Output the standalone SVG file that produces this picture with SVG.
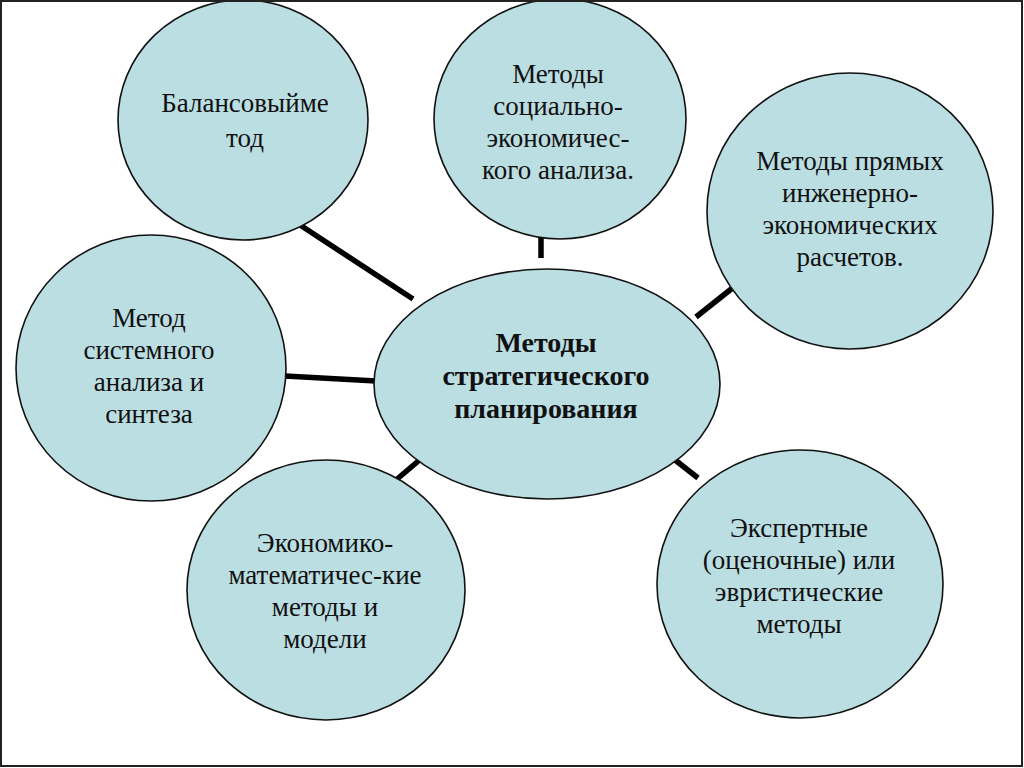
<svg xmlns="http://www.w3.org/2000/svg" width="1024" height="768" viewBox="0 0 1024 768">
<style>
.node{fill:#BBDEE2;stroke:#111;stroke-width:1.6}
.t{font-family:"Liberation Serif","Times New Roman",serif;font-size:27px;fill:#111;text-anchor:middle}
.b{font-family:"Liberation Serif","Times New Roman",serif;font-size:28px;font-weight:bold;fill:#111;text-anchor:middle}
.c{stroke:#000;stroke-width:5.5;stroke-linecap:butt}
</style>
<rect x="0" y="0" width="1024" height="768" fill="#fff"/>
<g id="connectors">
<line class="c" x1="300" y1="225" x2="413" y2="299"/>
<line class="c" x1="541" y1="236" x2="541" y2="258"/>
<line class="c" x1="735" y1="286" x2="696" y2="317"/>
<line class="c" x1="285" y1="376" x2="376" y2="381"/>
<line class="c" x1="396" y1="480" x2="423" y2="457"/>
<line class="c" x1="670" y1="456" x2="698" y2="478"/>
</g>
<g id="n-balance">
<ellipse class="node" cx="243" cy="120" rx="125" ry="120"/>
<text class="t" x="245" y="112">Балансовыйме</text>
<text class="t" x="245" y="147">тод</text>
</g>
<g id="n-social">
<ellipse class="node" cx="560" cy="119" rx="126" ry="120"/>
<text class="t" x="558" y="83">Методы</text>
<text class="t" x="558" y="115">социально-</text>
<text class="t" x="558" y="147">экономичес-</text>
<text class="t" x="558" y="179">кого анализа.</text>
</g>
<g id="n-direct">
<ellipse class="node" cx="850" cy="211" rx="143" ry="138"/>
<text class="t" x="850" y="170">Методы прямых</text>
<text class="t" x="850" y="202">инженерно-</text>
<text class="t" x="850" y="234">экономических</text>
<text class="t" x="850" y="266">расчетов.</text>
</g>
<g id="n-system">
<ellipse class="node" cx="151" cy="368" rx="135" ry="133"/>
<text class="t" x="149" y="327">Метод</text>
<text class="t" x="149" y="359">системного</text>
<text class="t" x="149" y="391">анализа и</text>
<text class="t" x="149" y="423">синтеза</text>
</g>
<g id="n-center">
<ellipse class="node" cx="547" cy="384" rx="173" ry="115"/>
<text class="b" x="546" y="352">Методы</text>
<text class="b" x="546" y="385">стратегического</text>
<text class="b" x="546" y="418">планирования</text>
</g>
<g id="n-econ">
<ellipse class="node" cx="326" cy="590" rx="139" ry="130"/>
<text class="t" x="325" y="552">Экономико-</text>
<text class="t" x="325" y="584">математичес-кие</text>
<text class="t" x="325" y="616">методы и</text>
<text class="t" x="325" y="648">модели</text>
</g>
<g id="n-expert">
<ellipse class="node" cx="800" cy="584" rx="143" ry="134"/>
<text class="t" x="799" y="537">Экспертные</text>
<text class="t" x="799" y="569">(оценочные) или</text>
<text class="t" x="799" y="601">эвристические</text>
<text class="t" x="799" y="633">методы</text>
</g>
<rect x="1" y="1" width="1021" height="765" fill="none" stroke="#222" stroke-width="2"/>
</svg>
